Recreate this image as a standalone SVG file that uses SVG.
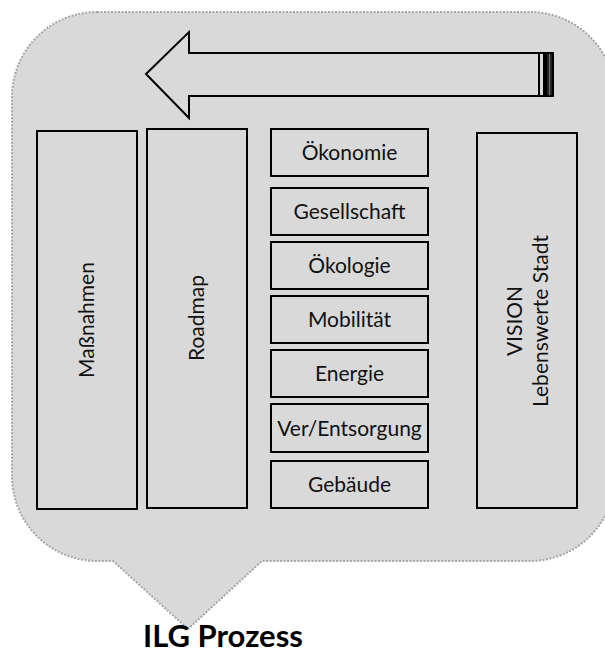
<svg xmlns="http://www.w3.org/2000/svg" width="605" height="659" viewBox="0 0 605 659">
<style>
.box{fill:none;stroke:#000;stroke-width:2}
.t{font-family:Lato,"Liberation Sans",sans-serif;font-size:21px;fill:#111;text-anchor:middle}
.title{font-family:Lato,"Liberation Sans",sans-serif;font-size:31px;font-weight:bold;fill:#000}
</style>
<rect width="605" height="659" fill="#fff"/>
<g id="bubble">
<path d="M97,12 H530 A85,85 0 0 1 615,97 V476 A85,85 0 0 1 530,561 H262 L188,629 L113,561 H97 A85,85 0 0 1 12,476 V97 A85,85 0 0 1 97,12 Z" fill="#d9d9d9" stroke="#a6a6a6" stroke-width="2" stroke-dasharray="2 1.5"/>
</g>
<g id="arrow">
<polygon points="146,74 189,32 189,53 539,53 539,96 189,96 189,118" fill="none" stroke="#000" stroke-width="2" stroke-linejoin="miter"/>
<rect x="539" y="53" width="5" height="43" fill="none" stroke="#000" stroke-width="2"/>
<rect x="546" y="53" width="7" height="43" fill="#222" stroke="#000" stroke-width="2"/>
<line x1="549.5" y1="54" x2="549.5" y2="95" stroke="#777" stroke-width="1"/>
</g>
<g id="massnahmen">
<rect class="box" x="37" y="131" width="100" height="378"/>
<text class="t" transform="translate(94,320) rotate(-90)">Maßnahmen</text>
</g>
<g id="roadmap">
<rect class="box" x="147" y="129" width="100" height="379"/>
<text class="t" transform="translate(204,318) rotate(-90)">Roadmap</text>
</g>
<g id="oekonomie"><rect class="box" x="271" y="129" width="157" height="47"/><text class="t" x="349.5" y="160">Ökonomie</text></g>
<g id="gesellschaft"><rect class="box" x="271" y="188" width="157" height="47"/><text class="t" x="349.5" y="219">Gesellschaft</text></g>
<g id="oekologie"><rect class="box" x="271" y="242" width="157" height="47"/><text class="t" x="349.5" y="273">Ökologie</text></g>
<g id="mobilitaet"><rect class="box" x="271" y="296" width="157" height="47"/><text class="t" x="349.5" y="327">Mobilität</text></g>
<g id="energie"><rect class="box" x="271" y="350" width="157" height="47"/><text class="t" x="349.5" y="381">Energie</text></g>
<g id="versorgung"><rect class="box" x="271" y="404" width="157" height="48"/><text class="t" x="349.5" y="436">Ver/Entsorgung</text></g>
<g id="gebaeude"><rect class="box" x="271" y="461" width="157" height="47"/><text class="t" x="349.5" y="492">Gebäude</text></g>
<g id="vision">
<rect class="box" x="477" y="133" width="100" height="375"/>
<text class="t" transform="translate(522,321) rotate(-90)">VISION</text>
<text class="t" transform="translate(548,321) rotate(-90)">Lebenswerte Stadt</text>
</g>
<g id="connectors"></g>
<text class="title" x="143" y="647">ILG Prozess</text>
</svg>
